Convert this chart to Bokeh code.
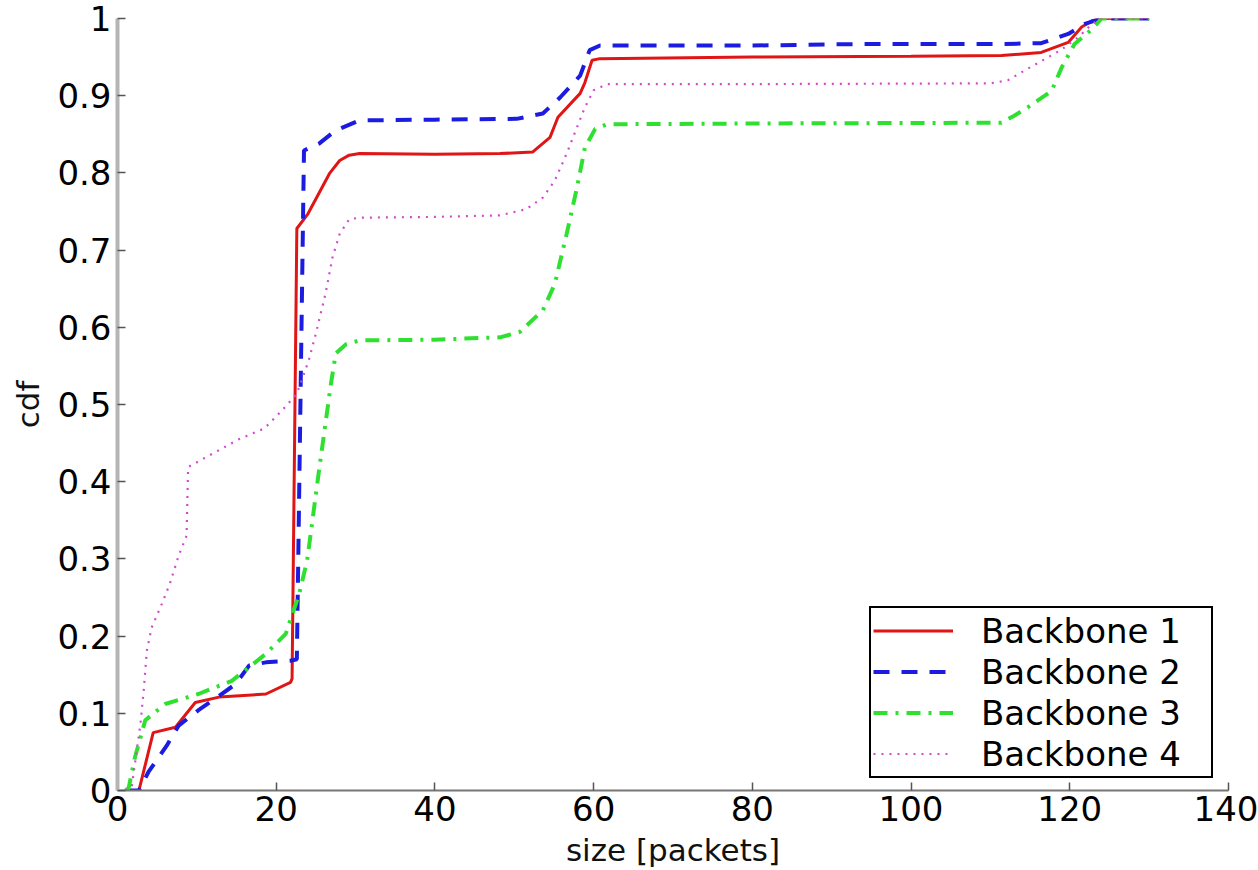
from bokeh.plotting import figure
from bokeh.models import FixedTicker, CustomJSTickFormatter, Legend, LegendItem, Range1d
from bokeh.embed import file_html
from bokeh.resources import INLINE

# ---- data ----
b1_x = [1, 2.7, 4.5, 7.3, 9.8, 12.8, 18.7, 21.8, 22.0, 22.6, 24.0, 26.7, 28.0, 29.2, 30.5, 40, 48.2, 52.3, 54.5, 55.5,
        58.3, 58.9, 59.8, 60.8, 80, 100, 111.4, 116.4, 119.8, 121.5, 122.8, 124, 130]
b1_y = [0, 0, 0.075, 0.082, 0.114, 0.121, 0.125, 0.14, 0.145, 0.728, 0.747, 0.799, 0.816, 0.823, 0.825, 0.824, 0.825,
        0.827, 0.846, 0.872, 0.903, 0.917, 0.946, 0.948, 0.950, 0.951, 0.952, 0.956, 0.969, 0.989, 0.997, 1.0, 1.0]

b2_x = [1, 2.7, 3.9, 6.2, 7.7, 10.2, 12.3, 14.9, 16.6, 18.7, 21.8, 22.6, 23.5, 25.4, 27.5, 30.5, 40, 50.3, 53.6, 55.8,
        58.3, 59.5, 60.8, 80, 94, 111.4, 116.4, 119.8, 121.9, 124, 130]
b2_y = [0, 0, 0.024, 0.058, 0.084, 0.104, 0.119, 0.138, 0.162, 0.166, 0.168, 0.170, 0.829, 0.838, 0.855, 0.868, 0.869,
        0.870, 0.877, 0.898, 0.926, 0.959, 0.965, 0.965, 0.967, 0.967, 0.968, 0.980, 0.993, 1.0, 1.0]

b3_x = [1, 1.4, 2.2, 3.5, 6.0, 10.2, 14.4, 18.7, 21.2, 22.9, 23.9, 25.4, 26.9, 27.5, 28.8, 30.5, 40, 48.2, 50.7, 53.6,
        55.1, 56.6, 57.9, 58.9, 60.2, 61.7, 80, 111.4, 113, 114.7, 117.7, 119, 120.6, 122.8, 124, 130]
b3_y = [0, 0.003, 0.043, 0.091, 0.112, 0.125, 0.142, 0.177, 0.203, 0.255, 0.298, 0.415, 0.527, 0.566, 0.578, 0.583,
        0.584, 0.587, 0.594, 0.622, 0.656, 0.721, 0.781, 0.833, 0.857, 0.863, 0.864, 0.865, 0.874, 0.885, 0.906, 0.937,
        0.967, 0.986, 1.0, 1.0]

b4_x = [1, 1.8, 2.2, 2.9, 3.3, 3.7, 4.3, 5.6, 6.6, 7.7, 8.7, 8.9, 10.5, 15.3, 18.5, 20.7, 22.6, 24.1, 25.0, 26.2,
        27.1, 28.0, 29.2, 30.5, 40, 48.2, 51.5, 53.6, 55.1, 56.6, 57.9, 58.9, 60.0, 61.7, 80, 110, 112.2, 114.7, 116.8,
        119, 121.1, 122.8, 124, 130]
b4_y = [0, 0.005, 0.035, 0.087, 0.129, 0.181, 0.211, 0.242, 0.268, 0.304, 0.33, 0.419, 0.428, 0.455, 0.469, 0.492,
        0.514, 0.557, 0.592, 0.643, 0.691, 0.721, 0.740, 0.742, 0.743, 0.745, 0.753, 0.768, 0.790, 0.825, 0.859, 0.885,
        0.907, 0.915, 0.915, 0.916, 0.920, 0.935, 0.947, 0.960, 0.976, 0.993, 1.0, 1.0]

series_names = ["Backbone 1", "Backbone 2", "Backbone 3", "Backbone 4"]
x_ticks = [0, 20, 40, 60, 80, 100, 120, 140]
y_ticks = [0, 0.1, 0.2, 0.3, 0.4, 0.5, 0.6, 0.7, 0.8, 0.9, 1.0]

FONT = "DejaVu Sans"

p = figure(width=1258, height=870, output_backend="svg", toolbar_location=None,
           x_range=Range1d(0, 140), y_range=Range1d(0, 1),
           min_border_left=117, min_border_right=30, min_border_top=18, min_border_bottom=80)
p.outline_line_color = None
p.xgrid.visible = False
p.ygrid.visible = False
p.background_fill_color = "white"
p.border_fill_color = "white"

r1 = p.line(b1_x, b1_y, line_color="#e01515", line_width=3)
r2 = p.line(b2_x, b2_y, line_color="#1c1ce0", line_width=4, line_dash="16 12")
r3 = p.line(b3_x, b3_y, line_color="#30e030", line_width=4, line_dash="14 8 3 8")
r4 = p.line(b4_x, b4_y, line_color="#d04ad0", line_width=2.2, line_dash="2 6")

# axes
for ax in (p.xaxis[0], p.yaxis[0]):
    ax.major_tick_in = 8
    ax.major_tick_out = 0
    ax.minor_tick_in = 0
    ax.minor_tick_out = 0
    ax.major_tick_line_color = "#555555"
    ax.major_tick_line_width = 1.5
    ax.major_label_text_font = FONT
    ax.major_label_text_font_size = "34px"
    ax.major_label_text_color = "#000000"
    ax.axis_label_text_font = FONT
    ax.axis_label_text_font_size = "31px"
    ax.axis_label_text_font_style = "normal"
    ax.axis_label_text_color = "#111111"

p.xaxis.ticker = FixedTicker(ticks=x_ticks)
p.yaxis.ticker = FixedTicker(ticks=y_ticks)
p.yaxis.formatter = CustomJSTickFormatter(code="return (Math.round(tick*10)/10).toString();")
p.xaxis.axis_label = "size [packets]"
p.yaxis.axis_label = "cdf"
p.yaxis.axis_line_color = "#b5b5b5"
p.yaxis.axis_line_width = 4
p.xaxis.axis_line_color = "#777777"
p.xaxis.axis_line_width = 2
p.yaxis.major_label_standoff = 6
p.xaxis.major_label_standoff = 5
p.yaxis.axis_label_standoff = 8
p.xaxis.axis_label_standoff = 8

legend = Legend(items=[LegendItem(label=series_names[0], renderers=[r1]),
                       LegendItem(label=series_names[1], renderers=[r2]),
                       LegendItem(label=series_names[2], renderers=[r3]),
                       LegendItem(label=series_names[3], renderers=[r4])],
                location=(752, 12))
legend.label_text_font = FONT
legend.label_text_font_size = "34px"
legend.label_text_color = "#000000"
legend.border_line_color = "black"
legend.border_line_alpha = 1
legend.border_line_width = 2
legend.background_fill_color = "white"
legend.background_fill_alpha = 1
legend.padding = 2
legend.spacing = 0
legend.glyph_width = 80
legend.glyph_height = 41
legend.label_height = 41
legend.label_standoff = 28
legend.label_width = 228
legend.margin = 0
p.add_layout(legend, "center")

open("out.html", "w").write(file_html(p, INLINE))
